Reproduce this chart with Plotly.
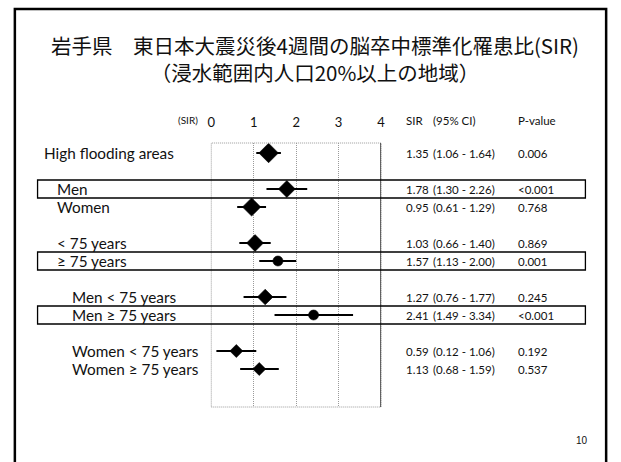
import plotly.graph_objects as go

# ---------------- data ----------------
labels = ["High flooding areas", "Men", "Women", "< 75 years", "\u2265 75 years",
          "Men < 75 years", "Men \u2265 75 years", "Women < 75 years", "Women \u2265 75 years"]
group_id = [0, 1, 1, 2, 2, 3, 3, 4, 4]
sir = [1.35, 1.78, 0.95, 1.03, 1.57, 1.27, 2.41, 0.59, 1.13]
ci_low = [1.06, 1.30, 0.61, 0.66, 1.13, 0.76, 1.49, 0.12, 0.68]
ci_high = [1.64, 2.26, 1.29, 1.40, 2.00, 1.77, 3.34, 1.06, 1.59]
p_values = ["0.006", "<0.001", "0.768", "0.869", "0.001", "0.245", "<0.001", "0.192", "0.537"]
highlighted = [False, True, False, False, True, False, True, False, False]
x_ticks = [0, 1, 2, 3, 4]
title_line1 = "岩手県\u3000東日本大震災後4週間の脳卒中標準化罹患比(SIR)"
title_line2 = "（浸水範囲内人口20%以上の地域）"
page_number = "10"

# ---------------- styles ----------------
W, H = 621, 462
marker_symbols = ["diamond", "diamond", "diamond", "diamond", "circle",
                  "diamond", "circle", "diamond", "diamond"]
marker_sizes = [15, 13, 14, 13, 10, 12, 10, 10, 10]
indent_px = {0: 39, 1: 52, 2: 52, 3: 67, 4: 67}
FONT = "Lato, 'Open Sans', sans-serif"
JP = "'Noto Sans CJK JP', sans-serif"
INK = "#111111"
GRID = "#9a9a9a"


def px(x):
    return x / W


def py(y):
    return 1 - y / H


# row slots: one blank slot between groups
slots = [i + g for i, g in enumerate(group_id)]

fig = go.Figure()
fig.add_trace(go.Scatter(
    x=sir, y=slots, mode="markers",
    marker=dict(symbol=marker_symbols, size=marker_sizes, color="black",
                opacity=1, line=dict(width=0.6, color="black")),
    error_x=dict(type="data", symmetric=False,
                 array=[h - s for h, s in zip(ci_high, sir)],
                 arrayminus=[s - l for s, l in zip(sir, ci_low)],
                 width=0, thickness=2, color="black"),
    showlegend=False, hoverinfo="skip",
))

shapes = []
# slide frame
shapes.append(dict(type="rect", xref="paper", yref="paper",
                   x0=px(11), x1=px(610), y0=py(475), y1=py(9),
                   line=dict(color="black", width=2.5), layer="below"))
# plot frame (dotted grey)
shapes.append(dict(type="rect", xref="x domain", yref="y domain", x0=0, x1=1, y0=0, y1=1,
                   line=dict(color=GRID, width=1, dash="1px,1px")))
# solid line at max of axis
shapes.append(dict(type="line", xref="x", yref="y domain", x0=x_ticks[-1], x1=x_ticks[-1],
                   y0=0, y1=1, line=dict(color="#222222", width=1.5)))
# highlight boxes
for s, hl in zip(slots, highlighted):
    if hl:
        shapes.append(dict(type="rect", xref="paper", yref="y",
                           x0=px(34), x1=px(589), y0=s - 0.5, y1=s + 0.5,
                           line=dict(color="black", width=1.3)))

annotations = []
# left labels
for lab, s, g in zip(labels, slots, group_id):
    annotations.append(dict(text=lab, xref="paper", yref="y", x=px(indent_px[g]), y=s,
                            xanchor="left", yanchor="middle", showarrow=False,
                            font=dict(family=FONT, size=15.3, color=INK)))
# right columns
col_x = [405, 433, 519]
for s, v, lo, hi, p in zip(slots, sir, ci_low, ci_high, p_values):
    for txt, x in zip([f"{v:.2f}", f"({lo:.2f} - {hi:.2f})", p], col_x):
        annotations.append(dict(text=txt, xref="paper", yref="y", x=px(x), y=s,
                                xanchor="left", yanchor="middle", showarrow=False,
                                font=dict(family=FONT, size=11.5, color=INK)))
# headers
for txt, x in zip(["SIR", "(95% CI)", "P-value"], col_x):
    annotations.append(dict(text=txt, xref="paper", yref="paper", x=px(x), y=py(121),
                            xanchor="left", yanchor="middle", showarrow=False,
                            font=dict(family=FONT, size=11.5, color=INK)))
annotations.append(dict(text="(SIR)", xref="paper", yref="paper", x=px(174), y=py(120),
                        xanchor="left", yanchor="middle", showarrow=False,
                        font=dict(family=FONT, size=10, color=INK)))
# title (two lines in one block)
annotations.append(dict(text=title_line1 + "<br>" + title_line2, xref="paper", yref="paper",
                        x=px(315), y=py(59), xanchor="center", yanchor="middle", align="center",
                        showarrow=False, font=dict(family=JP, size=20.5, color=INK)))
annotations.append(dict(text=page_number, xref="paper", yref="paper", x=px(586), y=py(440),
                        xanchor="center", yanchor="middle", showarrow=False,
                        font=dict(family="'Liberation Sans', Arial, sans-serif", size=10, color=INK)))

top_px, bottom_px = 143, 407
row_px = 18.0
first_row_px = 153
y_top = (top_px - first_row_px) / row_px
y_bottom = (bottom_px - first_row_px) / row_px

fig.update_layout(
    width=W, height=H, autosize=False,
    margin=dict(l=0, r=0, t=0, b=0),
    paper_bgcolor="white", plot_bgcolor="white",
    xaxis=dict(domain=[px(210), px(382)], range=[x_ticks[0], x_ticks[-1]], side="top",
               tickvals=x_ticks, ticktext=[str(t) for t in x_ticks], ticks="",
               showgrid=True, gridcolor=GRID, griddash="1px,1px", gridwidth=1,
               zeroline=False, showline=False, ticklabelstandoff=12,
               tickfont=dict(family=FONT, size=13, color=INK), fixedrange=True),
    yaxis=dict(domain=[py(bottom_px), py(top_px)], range=[y_bottom, y_top],
               visible=False, fixedrange=True),
    shapes=shapes, annotations=annotations,
)

fig.write_html("out.html", config={"displayModeBar": False},
               post_script="document.body.style.margin='0';document.body.style.overflow='hidden';")
